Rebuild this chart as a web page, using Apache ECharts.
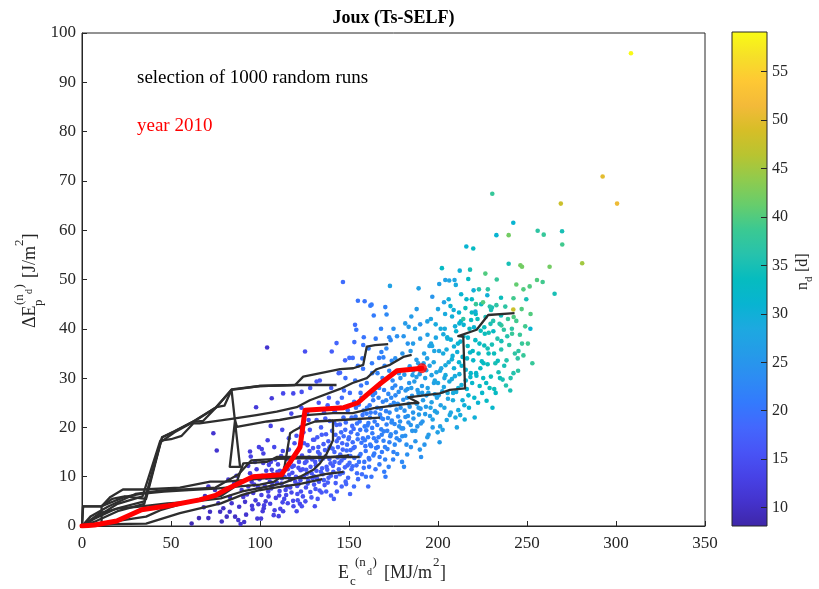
<!DOCTYPE html>
<html>
<head>
<meta charset="utf-8">
<script src="https://cdn.jsdelivr.net/npm/echarts@6/dist/echarts.min.js"></script>
<style>
  html, body { margin: 0; padding: 0; background: #ffffff; }
  #main { width: 819px; height: 589px; }
</style>
</head>
<body>
<div id="main"></div>
<script>
// Axis settings
const xTicks = [0, 50, 100, 150, 200, 250, 300, 350];
const yTicks = [0, 10, 20, 30, 40, 50, 60, 70, 80, 90, 100];
const ndRange = [8.1, 59.1];

// Parula colour ramp used for n_d
const parula = ['#3e26a8', '#4433cd', '#4742e6', '#4854f6', '#4367fd', '#337afd', '#2d8cf3',
  '#259be8', '#1da9e0', '#08b4d1', '#06bcbf', '#27c2ac', '#3bc992', '#67cd6c', '#8fcb4e',
  '#b8c431', '#d6be27', '#f3ba39', '#fec834', '#f6e028', '#f9fb15'];

// End state of each random run: [Ec (MJ/m2), dEp (J/m2), n_d (days)]
const runEnds = [
  [61.6,0.5,9],[65.7,1.6,9],[68.4,3.8,10],[69.1,6.1,10],
  [71,1.6,10],[71.9,2.9,10],[71,8,11],[73.8,18.8,11],[74.7,7.3,10],[75.7,15.3,11],[76.6,4.6,10],[77.6,2.9,10],[78.5,0.9,10],[78.5,6.6,11],[79.4,3.6,10],
  [81.3,1.9,10],[83,2.9,11],[84.1,4.6,11],[83.1,5.9,11],[86,1.9,10],[87.8,1.2,11],[89.7,7.3,12],[85.5,8.6,11],[88.3,3.9,11],[86.8,10.2,12],[82.2,9.4,11],[89.1,0.4,11],
  [90.6,5.9,12],[91.6,4.9,11],[93.4,8,12],[95.3,9,12],[94.4,10.7,12],[97.2,10,12],[93.4,12.2,12],[97.2,13,13],[94.4,15.1,12],[94.8,14.1,13],[99.4,16,13],[97.8,24.1,12],[92.2,2.3,11],[95.8,3.4,12],[98.5,1.5,12],[96.2,6.7,12],[99.1,4.4,12],[91.1,0.8,11],[98.8,7.9,13],[92.7,6.4,12],
  [101,15.6,13],[101.9,14.7,13],[104.3,17.4,13],[106,20.3,13],[106.6,25.9,12],[104,36.2,11],[106.6,11.4,13],[100.6,1.5,12],[101.5,3,12],[102.3,4.2,13],[103.2,5,12],[100.8,6.3,13],[104.6,7,13],[102.7,8.1,13],[105.5,9,13],[103.8,9.8,13],[107.2,10.5,13],[105,12.4,14],[108.6,13.5,14],[107.7,2.2,13],[108.9,5.7,13],[106.3,7.6,14],[109.4,8.8,14],[101.3,10.2,13],[109.8,11,14],
  [110.5,2,13],[111.4,3.5,13],[112.7,4.8,14],[113.6,5.5,14],[110.8,6.2,13],[114.4,7.3,14],[115.2,8,14],[112.1,8.6,14],[116.9,9.4,14],[113.8,10,15],[118.2,10.8,15],[115.6,11.5,14],[119,12.2,15],[117.3,13,15],[111.9,14.2,14],[116.2,15.5,15],[119.4,16.8,15],[118.8,4,14],[117.7,6.8,14],[119.8,9,15],[111.2,11.2,14],[114.9,13.6,15],[112.5,19.5,14],[117.6,22.8,14],
  [120.6,3,14],[122.4,4.5,14],[121.2,5.2,15],[124.1,6,15],[123,7,15],[125.8,7.8,15],[121.7,8.5,15],[127.1,9.2,16],[124.7,10,15],[126.3,10.6,16],[122.8,11.3,15],[128.4,12,16],[125.2,12.8,16],[129.3,13.5,16],[123.6,14.3,15],[127.8,15.2,16],[126.7,16.4,16],[129.8,17.5,16],[124.4,19,15],[128.9,5.8,16],[120.9,8.1,15],[129.5,9.7,16],[121.6,11.8,15],[126.1,13.1,16],[122.1,15.8,16],[127.3,21.5,15],[123.3,24,15],[128.2,28,16],[125.3,35.4,15],
  [130.8,4,15],[132.4,5.5,16],[134.6,6.8,16],[131.2,7.5,16],[136.3,8.3,16],[133.1,9,16],[138.5,9.8,17],[135.2,10.5,17],[131.7,11.2,16],[137.4,12,17],[139.6,12.7,17],[133.9,13.4,17],[136.8,14.1,17],[132.6,15,17],[138.9,15.8,17],[135.7,16.6,17],[130.5,17.5,16],[137.1,18.6,17],[134.3,20,17],[139.2,21.3,17],[139.9,6.2,17],[138.1,8.8,17],[130.3,10.1,16],[134.9,11.7,17],[131,13,16],[133.5,14.6,17],[139.4,16.1,18],[132.2,18,17],[136,23,17],[138.7,26,17],[133.6,29.5,16],[140.3,35.4,17],
  [141.5,5.5,17],[143.2,7,17],[145.9,8,18],[148.1,9,18],[142.7,10,17],[146.6,10.8,18],[144.3,11.5,18],[149.2,12.3,18],[141.9,13,18],[147.4,13.8,18],[145.1,14.5,18],[148.7,15.3,19],[143.8,16,18],[146.2,16.8,18],[149.7,17.6,19],[142.4,18.5,18],[147.9,19.5,19],[144.9,20.6,18],[146.9,22,19],[149.3,23.5,19],[148.4,8.5,18],[141.2,11,17],[144.6,12.8,18],[149.9,14.2,19],[140.8,15.7,18],[143.1,17.2,18],[145.6,19,19],[141.6,21,18],[143.6,25,18],[147.2,27.5,19],[144.2,31,18],[143,37.1,18],[146.6,49.5,19],[147.8,33.6,18],[145,31.1,18],
  [150.6,6.5,18],[152.8,8,19],[155.1,9.5,19],[157.3,10.5,19],[151.4,11.5,19],[154.2,12.3,19],[158.6,13,20],[153,13.8,19],[156.5,14.6,20],[150.9,15.4,19],[159.2,16.2,20],[152.1,17,19],[157.8,17.8,20],[154.8,18.6,20],[159.7,19.4,21],[151.8,20.3,19],[156,21.2,20],[153.7,22.2,20],[158.2,23.4,21],[155.5,24.6,20],[157,26,20],[159.5,10,20],[150.3,12.8,19],[155.9,14.2,20],[152.5,15.8,19],[158.9,17.4,21],[151.1,19,19],[154.5,20.8,20],[159.9,22.8,21],[152.9,25.2,20],[156.8,28.5,20],[150.2,34.1,19],[153.4,40.8,19],[154.1,39.8,20],[155,45.7,20],[153,37.3,19],[158.3,38.3,20],[158,36.7,20],[157.9,31.9,20],[152.1,34.1,19],
  [160.8,8,19],[162.6,10,20],[164.9,11.5,20],[167.1,12.5,21],[161.4,13.5,20],[163.7,14.3,21],[168.5,15,21],[165.2,15.8,21],[161.9,16.5,21],[169.4,17.3,22],[166.6,18,21],[163.1,18.8,21],[168.1,19.6,22],[160.4,20.4,21],[164.4,21.2,21],[167.8,22,22],[162.2,23,21],[165.8,24,22],[169,25.2,22],[163.4,26.5,22],[166.9,28,22],[169.8,11,21],[161.1,13.8,20],[166.2,16,21],[164,17.8,21],[169.6,19.2,22],[160.9,20.9,21],[167.4,22.6,22],[161.6,24.5,21],[164.7,27,22],[168.8,30,22],[162.9,33,21],[168.2,35.3,22],[166.9,34.1,21],[162,44.7,21],[158.8,45.6,20],[162.7,44.9,21],[163.9,42.7,21],
  [170.5,10,21],[172.3,12,22],[174.8,13.5,22],[177.1,14.6,23],[171.6,15.6,22],[175.7,16.5,23],[178.4,17.4,23],[173.2,18.2,22],[176.3,19,23],[179.5,19.8,24],[171.1,20.6,22],[174.1,21.4,23],[177.6,22.2,23],[172.8,23,23],[179,24,24],[175.2,25,23],[173.7,26,23],[177.9,27.2,24],[176,28.5,23],[178.9,30,24],[179.8,13,23],[170.2,16,22],[173.5,18.6,23],[178.2,20.2,24],[171.9,21.9,23],[176.7,23.6,24],[170.9,25.5,23],[174.4,28,23],[172.6,31.5,23],[169.3,34.2,22],[173.4,37.7,23],[171.1,42.9,23],[170.4,44.4,22],[173,48.7,27],[172.6,38.3,23],
  [180.9,12,23],[182.7,14.5,24],[184.8,16,24],[187.3,17.2,25],[181.6,18.3,24],[185.5,19.3,25],[188.4,20.2,25],[183.4,21,24],[186.2,21.8,25],[189.3,22.6,26],[181.2,23.4,24],[184.1,24.2,25],[187.7,25,26],[182.6,26,25],[189,27,26],[185,28,26],[183.8,29,25],[187.9,30.2,26],[186.1,31.5,26],[188.9,33,26],[189.8,15.5,25],[180.4,19.8,24],[183.1,22.3,25],[188.1,24.8,26],[181.8,27.5,25],[185.7,30.6,26],[180.7,38.5,25],[181.6,41.1,26],[183.5,40.4,26],[187.1,40,27],[189.1,48.2,27],[184.6,35.5,26],
  [190.5,14,24],[192.4,16.5,25],[194.7,18.5,26],[197,20,26],[191.3,21.2,25],[195.5,22.3,26],[198.3,23.3,27],[193.2,24.2,26],[196.4,25.1,27],[199.4,26,27],[191.1,27,26],[194.2,28,27],[197.7,29,27],[192.8,30,27],[199.1,31.2,28],[195.3,32.5,27],[193.9,34,27],[197.9,35.5,28],[196.1,37,28],[199.8,19,27],[190.2,23.8,25],[193.5,26.5,26],[198.2,29.5,28],[191.9,33,27],[196.7,36.5,28],[198.7,40.9,29],[190,40.9,25],[196.8,46.5,25],[200.7,49.1,27],[194.1,38.8,27],
  [200.9,17,26],[202.6,19.5,27],[204.9,21.5,28],[207.2,23,28],[201.5,24.5,27],[205.6,25.8,28],[208.5,27,29],[203.3,28.2,28],[206.4,29.3,29],[209.5,30.4,29],[201.2,31.5,28],[204.2,32.6,29],[207.8,33.8,30],[202.9,35,29],[209,36.4,30],[205.3,38,29],[203.8,40,29],[207.9,42.5,30],[209.8,22,29],[200.4,26.5,27],[203.6,30,28],[208.2,34.5,30],[207,44.6,31],[203.4,45.4,27],[204.1,49.9,27],[206.3,49.8,28],[202.2,52.3,33],[205.2,38.3,30],[201.5,40,29],[209.3,49.9,28],[208.8,43.8,30],
  [210.6,20,28],[212.5,22.5,29],[214.8,24.5,30],[217.1,26.5,31],[211.4,28,30],[215.6,29.5,31],[218.4,31,32],[213.3,32.5,31],[216.3,34,32],[219.5,35.5,33],[211.2,37,31],[214.3,38.5,32],[217.7,40,33],[212.8,41.5,32],[219,43.3,33],[215.4,44.2,34],[213.8,25.5,30],[218.2,30.2,32],[211.8,33.2,31],[216.7,36.5,33],[210.2,39.5,31],[210,48.9,29],[217,50.1,33],[212.2,51.8,30],[215.9,56.7,31],[219.8,56.3,33],[211.8,43.3,31],[214.2,42,37],[212,41.1,31],[219,46,33],
  [220.6,22,30],[222.5,25,31],[224.8,27,32],[227.1,29,33],[221.4,31,32],[225.6,33,33],[228.4,35,34],[223.3,37,33],[226.3,39,34],[229.5,41,35],[221.2,43,33],[224.3,45,34],[227.7,46.8,30],[229,28,34],[223.8,32,33],[227.9,36,35],[220.2,40.3,31],[230.3,44.3,35],[226.6,51.2,40],[221.3,45,38],[225.3,45.4,40],[220,47.8,30],[226,40.3,34],[221,43.5,30],
  [230.6,24,32],[232.4,27,33],[234.8,30,34],[237.2,32.5,35],[231.5,35,34],[235.6,37.5,35],[235.6,40.7,38],[235.4,42.7,34],[235.4,46.3,34],[239.7,53.2,35],[232.8,59,31],[230.5,67.4,38],[238.2,28.5,36],[233.6,33.5,34],[238.9,38.5,36],[231.1,39.5,33],[229.8,43.8,35],[239.7,59,42],
  [240.6,27.5,35],[242.4,31,36],[244.8,34,37],[247.2,37,38],[241.5,40,37],[242.5,42.4,40],[242.3,43.9,48],[249.6,46,35],[251.5,48.6,40],[246.3,52.9,42],[247.2,52.6,42],[242.3,61.5,31],[245.2,35.5,37],
  [251.9,40,31],[255.6,49.9,40],[258.8,49.5,39],[256,59.9,37],[259.4,59.1,38],[262.7,52.6,42],[265.5,47.1,35],[269.7,59.8,35],[269.8,57.1,39],[269,65.4,48],[281,53.3,45],[292.5,70.9,50],[300.6,65.4,51],[308.4,95.9,59],
  // denser core of the cloud
  [95.5,4.1,12],[97.5,5.2,12],[100.2,7.5,13],[102.1,3.6,12],[103.5,11.2,13],[96.7,8.4,12],[104.8,6,13],[99.7,9.5,13],[101.8,12.8,13],[98.1,11.5,12],
  [105.7,4.5,13],[107,8.3,13],[108.2,3.2,13],[109,10,14],[110.1,12.5,14],[111,7.1,14],[112.3,9.7,14],[113,3,13],[114.1,11.8,14],[114.7,6.3,14],[106.1,13,13],[108,16,14],[112.8,15.2,14],
  [115.6,4.6,14],[116.4,10.4,15],[117,7.8,14],[118,12,15],[118.6,5.1,14],[119.3,14,15],[120.2,10,15],[121,6.5,15],[121.9,13,15],[122.7,9.3,15],[123.5,4,15],[124,11.5,15],[124.8,16.8,16],[116.2,17.8,15],[120.5,18.3,15],[123,20,15],
  [125.5,5,15],[126,11.4,16],[126.8,8.6,16],[127.6,13.9,16],[128.3,6.9,16],[129,10.7,16],[129.8,15.8,16],[130.4,8.4,16],[131.4,12.3,16],[132,9.7,16],[132.8,16,17],[133.5,7.2,16],[134.2,11,17],[134.7,18.5,17],[135.5,13.7,17],[128,19.5,16],[131.8,21.5,16],[126.5,23,16],[133,25,16],
  [135.9,9.3,17],[136.5,15.4,17],[137.2,7,17],[137.8,11.4,17],[138.4,17.2,17],[139,13.6,17],[139.8,10.2,17],[140.5,19.3,18],[141,12.2,17],[141.8,15,18],[142.5,8.7,17],[143,20.5,18],[143.6,13.9,18],[144.2,17.8,18],[144.9,10.5,18],[136.7,21.8,17],[142,23.3,18],[145.4,24,18],[138,24.5,17],[140,28,17],
  [145.8,13.3,18],[146.5,15.5,18],[147,18.2,19],[147.7,11.9,18],[148.2,21,19],[148.9,16.5,19],[149.5,9.8,18],[150,18,19],[150.8,14.2,19],[151.5,22,19],[152,12.1,19],[152.6,19.7,19],[153.2,16,19],[153.9,24,20],[154.5,10.7,19],[154.9,17.6,20],[146,26,19],[150.5,27,19],[153.5,29.5,20],[148,30,19],[155,32.5,20],
  [155.6,13,20],[156.3,19.5,20],[157,16.9,20],[157.6,22.5,20],[158.3,11.8,20],[158.8,20.2,21],[159.4,15.2,20],[160.1,24,21],[160.7,18,21],[161.3,12,20],[161.8,22,21],[162.4,16.2,21],[163,19.9,21],[163.6,25.5,21],[164.2,14.7,21],[164.8,23,21],[156.5,27,20],[160,29,21],[163,31,21],[157.5,34,20],[161,36,21],[165,38,21],
  [165.4,17.2,21],[165.9,20.5,21],[166.6,26,22],[167.2,14,21],[167.9,23.8,22],[168.4,18.5,22],[169.1,21.7,22],[169.7,27.6,22],[170.3,13.5,22],[170.8,23.3,22],[171.5,19.3,22],[172.1,26.8,23],[172.7,17,22],[173.3,24.5,23],[173.9,21,23],[174.5,29.5,23],[175,15,22],[166,31,22],[170,32.5,22],[174,33.5,23],[171,36,23],[175,40,24],[168,40,22],
  [175.6,20.7,23],[176.1,26.5,23],[176.8,17.8,23],[177.4,24.8,24],[178,31,24],[178.7,21.2,24],[179.3,28,24],[179.9,18.2,24],[180.5,25.6,24],[181.1,30.7,25],[181.7,22.1,24],[182.3,16.5,24],[182.9,27.8,25],[183.5,24.8,25],[184.1,32.4,25],[184.7,20.5,25],[176,34,24],[180,35,25],[183,37,25],[177,38.5,24],[185,42.5,26],
  [185.4,26.4,25],[186,23,25],[186.7,29.3,26],[187.3,19.3,25],[187.9,33.7,26],[188.5,27.6,26],[189.1,24,26],[189.7,30.8,26],[190.4,20.8,25],[191,28.4,26],[191.6,25.5,26],[192.2,35,27],[192.8,22.7,26],[193.4,31.6,27],[194,18,26],[194.6,27,27],[195.2,36.5,27],[186,37,26],[190,38,26],[194,41.5,27],[188,44,26],
  [195.8,24,27],[196.4,30.6,27],[197,21.6,27],[197.6,33.2,28],[198.2,26.7,27],[198.8,38.2,28],[199.4,23,27],[200,29,28],[200.6,35.5,28],[201.2,20.2,27],[201.8,32,28],[202.4,27.3,28],[203,38.9,29],[203.6,24,28],[204.2,30.6,29],[204.8,35.8,29],[196,42,28],[200,44,28],[204,43,29],
  [205.4,27,29],[206,33.2,29],[206.6,22.5,28],[207.2,37.8,30],[207.8,29.8,29],[208.4,25.5,29],[209,32,30],[209.6,40.5,30],[210.2,27.2,29],[210.8,35.3,30],[211.4,23.5,29],[212,30.8,30],[212.6,37.4,31],[213.2,28.6,30],[213.8,34.3,31],[214.4,40.8,31],[215,21.6,30],[206,46,30],[213,47,31],
  [215.6,31.7,31],[216.2,27.8,31],[216.8,38.2,32],[217.4,24,31],[218,35.2,32],[218.6,41.8,33],[219.2,29,32],[219.8,33.6,32],[220.4,26,32],[221,37.7,33],[221.6,30.5,32],[222.2,42,34],[222.8,35,33],[223.4,28.4,33],[224,39.6,34],[224.6,33.4,33],[216,46,32],[223,48,36],[218,52,35],
  [225.4,30,33],[226,36.6,34],[226.7,42.4,35],[227.3,25.4,33],[227.9,32.8,34],[228.5,39.2,35],[229.1,44.5,36],[229.7,30.3,34],[230.3,36.8,35],[231,41.6,36],[231.6,27.8,34],[232.2,33,35],[232.8,44.8,37],[233.4,38,36],[234,31.2,35],[234.6,41,36],[228,48,37],[233,50,38],
  [235.5,35.8,36],[236.3,29.7,35],[237,39.8,37],[237.8,44.5,37],[238.5,33.6,36],[239.3,42,38],[240,36.7,37],[240.8,30,36],[241.6,39,38],[242.4,46.2,39],[243.2,35,37],[244,41.6,39],[245,31.5,37],[246,38.8,38],[247,44,40],[248,34.6,38],[249,40.5,39],[250.5,37,39],[252,43,40],[248,48,40],[244,49,41],[253,33,38],
  [113,26.9,14],[118.7,26.9,14],[123.4,27.2,15],[131.8,29.3,16]
];

// Sampled run trajectories, [Ec, dEp] along n_d
const sampledRuns = [
  [[0,0],[0.6,4],[11,4],[17,5.5],[24,6],[36,5.5],[45,18],[52,19.2],[62,21.1],[68,21.3],[75.5,24.1],[80,24.4],[84,27.6],[100,28.4],[119.7,28.6],[124.3,30.3],[145,31.8],[152.4,32],[158,32.7],[160,36.4],[164.6,36.7],[172,36.9]],
  [[0,0],[9,2],[20,4.5],[34,6],[44,17.3],[50,17.6],[56,18.3],[62.5,20.8],[66,20.8],[85,21.8],[98,22.5],[109.4,23.2],[120.6,24.1],[128,25.5],[145,27.8],[152,29],[160,30],[165.5,31.8],[173,32.7],[180.5,34.3],[185.2,34.7]],
  [[0,0],[7,1.5],[19,3.5],[35,5],[45,18],[52,19.2],[62,21.1],[75.5,24.1],[84,27.7],[100,28.4],[120,28.6],[143,28.6]],
  [[0,0],[8,1],[20,3],[35,4.5],[44,17],[52,19],[62,21],[75,24],[84,27.6],[88.8,12],[83,12],[86,21.5],[87,20.1],[104,21.2],[111,21.5],[126,22.5],[141,22.9],[152,22.9],[164,23.9],[185,24.9],[189,25],[183.3,26.1],[201,26.9],[206.7,27.6],[215.2,27.9],[214.2,38.4],[211.4,38.5],[221.7,39.8],[228.2,42.8],[243,43.2]],
  [[0,0],[10,2.6],[21,3.6],[31,3.9],[48,4.6],[61,4.9],[78,5.6],[90,7],[104,8],[113,8.7],[122.5,10],[130,11.4],[133.7,12.7],[137.5,14.7],[141,17.4],[141,21.4],[150,21.6],[167.4,22]],
  [[0,0],[17.6,0.9],[23,1.2],[36,1.9],[44,3.2],[57,4.6],[68,5.6],[78,6.1],[86,8],[90.6,12.7],[103.8,13],[109.4,14],[130,14],[156,14]],
  [[0,0],[0.6,4],[11,4],[16,5.9],[23,7.4],[34,7.4],[55,7.8],[72,9],[81,9],[91,9.3],[104,9.7],[126,9.7],[138,10.6],[147,11]],
  [[0,0],[11,0.5],[11,4],[24,5.9],[33,6.5],[46,7],[60,7.3],[75,7.6],[90,8.1],[100,8.4],[108,9],[113,10.3],[116.9,18.8],[118.5,19.2],[124,20.3],[131,21.2],[141,21.4]],
  [[0,0],[17.6,0.4],[36,0.5],[55,2.6],[78,4.6],[90,6.3],[100,7.3],[112,8],[122,8.5],[135,9.5]],
  [[0,0],[5,2],[15,4],[30,6.5],[45,7.2],[60,7.5],[75,7.8],[88,10.5],[95,13.3],[110,13.6],[135,13.8],[150,14.3]]
];

// The 2010 season
const year2010 = [[0,0],[7,0.2],[19.5,1],[33.5,3.3],[48.5,4.1],[66,5.3],[75,6.2],[82,7.6],[96,10],[112,10.4],[117,13],[122.5,16],[125.3,23.5],[147,24],[155,25],[160,26.6],[168,29],[177,31.5],[191,32]];

const serif = '"Liberation Serif", "DejaVu Serif", serif';
const ink = '#262626';

const chart = echarts.init(document.getElementById('main'), null, { renderer: 'canvas' });

const gradStops = parula.map((c, i) => ({ offset: i / (parula.length - 1), color: c }));

function txt(text, x, y, size, opts) {
  opts = opts || {};
  return {
    type: 'text', x: x, y: y, rotation: opts.rot || 0, silent: true, z: 100,
    style: {
      text: text, font: (opts.bold ? 'bold ' : '') + size + 'px ' + serif,
      fill: opts.fill || '#000', align: opts.align || 'left', verticalAlign: 'middle',
      textAlign: opts.align || 'left', textVerticalAlign: 'middle'
    }
  };
}

const R = Math.PI / 2;
const graphics = [
  txt('Joux (Ts-SELF)', 393.5, 18, 18, { bold: true, align: 'center' }),
  txt('selection of 1000 random runs', 137, 78, 19),
  txt('year 2010', 137, 126, 19, { fill: '#ff0000' }),
  // x axis title: E_c^(n_d) [MJ/m^2]
  txt('E', 338, 573, 18, { fill: ink }),
  txt('c', 350, 581.5, 13, { fill: ink }),
  txt('(n', 355, 562.5, 13, { fill: ink }),
  txt('d', 367, 572.5, 10, { fill: ink }),
  txt(')', 372.5, 562.5, 13, { fill: ink }),
  txt('[MJ/m', 384, 573, 18, { fill: ink }),
  txt('2', 433, 562.5, 13, { fill: ink }),
  txt(']', 440, 573, 18, { fill: ink }),
  // y axis title: ΔE_p^(n_d) [J/m^2]
  txt('\u0394E', 30, 328, 18, { fill: ink, rot: R }),
  txt('p', 38.6, 306, 13, { fill: ink, rot: R }),
  txt('(n', 19.6, 305, 13, { fill: ink, rot: R }),
  txt('d', 29.6, 294, 10, { fill: ink, rot: R }),
  txt(')', 19.6, 288.5, 13, { fill: ink, rot: R }),
  txt('[J/m', 30, 278, 18, { fill: ink, rot: R }),
  txt('2', 19.6, 246, 13, { fill: ink, rot: R }),
  txt(']', 30, 239.5, 18, { fill: ink, rot: R }),
  // colour bar title: n_d [d]
  txt('n', 802.6, 290, 16, { fill: ink, rot: R }),
  txt('d', 809.3, 282, 11, { fill: ink, rot: R }),
  txt('[d]', 802.6, 272, 16, { fill: ink, rot: R })
];

const series = [{
  type: 'scatter', xAxisIndex: 0, yAxisIndex: 0, data: runEnds,
  symbolSize: 4.6, itemStyle: { opacity: 1 }, z: 2, silent: true
}];
sampledRuns.forEach(run => series.push({
  type: 'line', xAxisIndex: 0, yAxisIndex: 0, data: run, showSymbol: false,
  lineStyle: { color: '#2e2e2e', width: 2.3, join: 'round' }, z: 3, silent: true
}));
series.push({
  type: 'line', xAxisIndex: 0, yAxisIndex: 0, data: year2010, showSymbol: false,
  lineStyle: { color: '#ff0000', width: 5, join: 'round', cap: 'round' }, z: 4, silent: true
});
series.push({
  type: 'scatter', xAxisIndex: 0, yAxisIndex: 0, data: [year2010[year2010.length - 1]],
  symbolSize: 10, itemStyle: { color: '#ff0000' }, z: 5, silent: true
});
series.push({
  type: 'custom', xAxisIndex: 1, yAxisIndex: 1, data: [[0, ndRange[0], ndRange[1]]], silent: true, z: 1,
  renderItem: function (params, api) {
    const p0 = api.coord([0, api.value(1)]);
    const p1 = api.coord([1, api.value(2)]);
    return {
      type: 'rect',
      shape: { x: p0[0], y: p1[1], width: p1[0] - p0[0], height: p0[1] - p1[1] },
      style: { fill: new echarts.graphic.LinearGradient(0, 1, 0, 0, gradStops), stroke: ink, lineWidth: 1 }
    };
  }
});

const tickLabel = { color: ink, fontFamily: serif, fontSize: 17 };

chart.setOption({
  animation: false,
  backgroundColor: '#ffffff',
  grid: [
    { left: 82, top: 33, width: 623, height: 493, show: true, borderColor: ink, borderWidth: 1, backgroundColor: 'transparent' },
    { left: 732, top: 32, width: 35, height: 494, show: false }
  ],
  xAxis: [
    { type: 'value', gridIndex: 0, min: xTicks[0], max: xTicks[xTicks.length - 1], interval: xTicks[1] - xTicks[0],
      axisLine: { onZero: false, lineStyle: { color: ink, width: 1 } },
      axisTick: { inside: true, length: 5, lineStyle: { color: ink } },
      axisLabel: Object.assign({ margin: 9 }, tickLabel), splitLine: { show: false } },
    { type: 'value', gridIndex: 1, min: 0, max: 1, show: false }
  ],
  yAxis: [
    { type: 'value', gridIndex: 0, min: yTicks[0], max: yTicks[yTicks.length - 1], interval: yTicks[1] - yTicks[0],
      axisLine: { onZero: false, lineStyle: { color: ink, width: 1 } },
      axisTick: { inside: true, length: 5, lineStyle: { color: ink } },
      axisLabel: Object.assign({ margin: 6 }, tickLabel), splitLine: { show: false } },
    { type: 'value', gridIndex: 1, min: ndRange[0], max: ndRange[1], splitNumber: 10, position: 'right', z: 10,
      axisLine: { show: false, onZero: false },
      axisTick: { inside: true, length: 6, lineStyle: { color: ink } },
      axisLabel: { margin: 5, color: ink, fontFamily: serif, fontSize: 16, showMinLabel: false, showMaxLabel: false,
        formatter: v => (Math.abs(v % 5) < 1e-6 ? String(Math.round(v)) : '') },
      splitLine: { show: false } }
  ],
  visualMap: {
    show: false, type: 'continuous', seriesIndex: 0, dimension: 2,
    min: ndRange[0], max: ndRange[1], inRange: { color: parula }
  },
  graphic: graphics,
  series: series
});
</script>
</body>
</html>
